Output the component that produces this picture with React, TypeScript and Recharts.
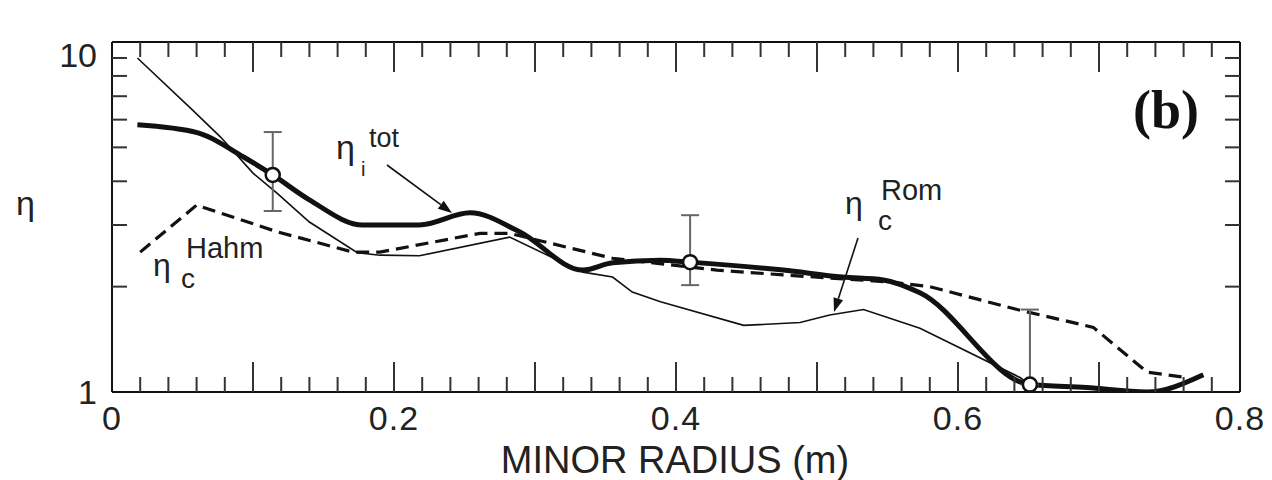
import React from 'react';
import { ComposedChart, Line, Scatter, ErrorBar, XAxis, YAxis } from 'recharts';

// eta_i^tot (thick solid)
const totX = [0.018, 0.061, 0.093, 0.114, 0.14, 0.178, 0.218, 0.254, 0.289, 0.334, 0.355, 0.389, 0.41, 0.476, 0.518, 0.547, 0.573, 0.651, 0.691, 0.734, 0.774];
const totY = [5.8, 5.5, 4.7, 4.17, 3.54, 3.0, 3.0, 3.25, 2.87, 2.23, 2.34, 2.38, 2.35, 2.23, 2.13, 2.09, 1.92, 1.05, 1.03, 1.0, 1.12];

// eta_c^Rom (thin solid)
const romX = [0.018, 0.057, 0.077, 0.1, 0.117, 0.14, 0.174, 0.19, 0.218, 0.282, 0.334, 0.355, 0.369, 0.389, 0.448, 0.488, 0.509, 0.533, 0.573, 0.644, 0.651];
const romY = [9.0, 6.4, 5.35, 4.22, 3.7, 3.06, 2.5, 2.46, 2.45, 2.77, 2.2, 2.13, 1.93, 1.81, 1.55, 1.58, 1.66, 1.72, 1.52, 1.1, 1.05];

// eta_c^Hahm (dashed)
const hahmX = [0.02, 0.06, 0.117, 0.171, 0.19, 0.261, 0.282, 0.355, 0.429, 0.476, 0.553, 0.58, 0.642, 0.696, 0.734, 0.762];
const hahmY = [2.51, 3.42, 2.87, 2.51, 2.51, 2.84, 2.84, 2.41, 2.23, 2.16, 2.06, 2.0, 1.72, 1.53, 1.14, 1.1];

// measured points with error bars [below, above]
const ptX = [0.114, 0.41, 0.651];
const ptY = [4.17, 2.35, 1.05];
const ptErr = [[0.88, 1.36], [0.33, 0.85], [0, 0.67]];

const xTicks = [0, 0.02, 0.04, 0.06, 0.08, 0.1, 0.12, 0.14, 0.16, 0.18, 0.2, 0.22, 0.24, 0.26, 0.28, 0.3, 0.32, 0.34, 0.36, 0.38, 0.4,
  0.42, 0.44, 0.46, 0.48, 0.5, 0.52, 0.54, 0.56, 0.58, 0.6, 0.62, 0.64, 0.66, 0.68, 0.7, 0.72, 0.74, 0.76, 0.78, 0.8];
const xLabelValues = [0, 0.2, 0.4, 0.6, 0.8];
const xLabels = ['0', '0.2', '0.4', '0.6', '0.8'];
const yTicks = [1, 2, 3, 4, 5, 6, 7, 8, 9, 10];
const yLabelValues = [1, 10];
const yLabels = ['1', '10'];

const totData = totX.map((x, i) => ({ x, y: totY[i] }));
const romData = romX.map((x, i) => ({ x, y: romY[i] }));
const hahmData = hahmX.map((x, i) => ({ x, y: hahmY[i] }));
const ptData = ptX.map((x, i) => ({ x, y: ptY[i], err: ptErr[i] }));

const INK = '#111';
const FONT = '"Liberation Sans", Arial, sans-serif';

const near = (a: number, b: number) => Math.abs(a - b) < 1e-6;
const isMajorX = (v: number) => near(v * 10, Math.round(v * 10));

const XTick = (side: 'bottom' | 'top') => (props: any) => {
  const x = Number(props.x);
  const y = Number(props.y);
  const v = Number(props.payload.value);
  const len = isMajorX(v) ? 30 : 15;
  const dir = side === 'bottom' ? -1 : 1;
  const li = xLabelValues.findIndex((t) => near(t, v));
  const inner = v > 0.001 && v < 0.799;
  return (
    <g>
      {inner ? <path d={`M${x},${y}L${x},${y + dir * len}`} stroke="#333" strokeWidth={2} fill="none" /> : null}
      {side === 'bottom' && li >= 0 ? (
        <text x={x} y={y + 38} textAnchor="middle" fontSize={34} fontFamily={FONT} fill="#222" letterSpacing={1}>
          {xLabels[li]}
        </text>
      ) : null}
    </g>
  );
};

const YTick = (side: 'left' | 'right') => (props: any) => {
  const { x, y, payload } = props;
  const v = payload.value;
  const dir = side === 'left' ? 1 : -1;
  const li = yLabelValues.indexOf(v);
  return (
    <g>
      {v > 1 && v < 10 && <line x1={x} y1={y} x2={x + dir * 15} y2={y} stroke="#333" strokeWidth={2} />}
      {side === 'left' && li >= 0 && (
        <text x={x - 15} y={y + (v === 10 ? 25 : 12)} textAnchor="end" fontSize={34} fontFamily={FONT} fill="#222">
          {yLabels[li]}
        </text>
      )}
    </g>
  );
};

const OpenCircle = (props: any) => {
  const { cx, cy } = props;
  return <circle cx={cx} cy={cy} r={7} fill="#fff" stroke={INK} strokeWidth={2.5} />;
};

const Arrow = ({ x1, y1, x2, y2 }: { x1: number; y1: number; x2: number; y2: number }) => {
  const a = Math.atan2(y2 - y1, x2 - x1);
  const L = 14;
  const W = 5;
  const bx = x2 - L * Math.cos(a);
  const by = y2 - L * Math.sin(a);
  const px = -Math.sin(a) * W;
  const py = Math.cos(a) * W;
  return (
    <g>
      <line x1={x1} y1={y1} x2={bx} y2={by} stroke={INK} strokeWidth={1.6} />
      <polygon points={`${x2},${y2} ${bx + px},${by + py} ${bx - px},${by - py}`} fill={INK} />
    </g>
  );
};

export default function App() {
  return (
    <div style={{ position: 'absolute', left: 0, top: 0, width: 1272, height: 480, background: '#fff' }}>
      <ComposedChart width={1272} height={480} margin={{ top: 41, right: 31, left: 0, bottom: 0 }}>
        <XAxis
          dataKey="x"
          type="number"
          domain={[0, 0.8]}
          allowDataOverflow
          ticks={xTicks}
          interval={0}
          height={88}
          tickSize={0}
          tickMargin={0}
          tickLine={false}
          axisLine={{ stroke: INK, strokeWidth: 2 }}
          tick={XTick('bottom')}
        />
        <XAxis
          xAxisId="top"
          orientation="top"
          dataKey="x"
          type="number"
          domain={[0, 0.8]}
          allowDataOverflow
          ticks={xTicks}
          interval={0}
          height={1}
          tickSize={0}
          tickMargin={0}
          tickLine={false}
          axisLine={{ stroke: INK, strokeWidth: 2 }}
          tick={XTick('top')}
        />
        <YAxis
          dataKey="y"
          scale="log"
          domain={[1, 10]}
          allowDataOverflow
          ticks={yTicks}
          interval={0}
          width={112}
          tickSize={0}
          tickMargin={0}
          tickLine={false}
          axisLine={{ stroke: INK, strokeWidth: 2 }}
          tick={YTick('left')}
        />
        <YAxis
          yAxisId="right"
          orientation="right"
          scale="log"
          domain={[1, 10]}
          allowDataOverflow
          ticks={yTicks}
          interval={0}
          width={1}
          tickSize={0}
          tickMargin={0}
          tickLine={false}
          axisLine={{ stroke: INK, strokeWidth: 2 }}
          tick={YTick('right')}
        />
        <Line data={romData} dataKey="y" type="linear" stroke={INK} strokeWidth={1.6} dot={false} isAnimationActive={false} />
        <Line data={hahmData} dataKey="y" type="linear" stroke={INK} strokeWidth={3.2} strokeDasharray="13 7" dot={false} isAnimationActive={false} />
        <Line data={totData} dataKey="y" type="monotone" stroke={INK} strokeWidth={5} dot={false} isAnimationActive={false} />
        <Scatter data={ptData} dataKey="y" shape={OpenCircle} isAnimationActive={false}>
          <ErrorBar dataKey="err" direction="y" width={9} stroke="#666" strokeWidth={2} isAnimationActive={false} />
        </Scatter>
      </ComposedChart>

      <svg width={1272} height={480} style={{ position: 'absolute', left: 0, top: 0, pointerEvents: 'none' }}>
        {/* y axis title */}
        <text x={16} y={215} fontSize={34} fontFamily={FONT} fill="#222">η</text>

        {/* eta_i^tot */}
        <text x={336} y={159} fontSize={34} fontFamily={FONT} fill="#222">η</text>
        <text x={361} y={176} fontSize={20} fontFamily={FONT} fill="#222">i</text>
        <text x={369} y={147} fontSize={27} fontFamily={FONT} fill="#222">tot</text>
        <Arrow x1={387} y1={165} x2={452} y2={213} />

        {/* eta_c^Rom */}
        <text x={845} y={214} fontSize={32} fontFamily={FONT} fill="#222">η</text>
        <text x={878} y={230} fontSize={28} fontFamily={FONT} fill="#222">c</text>
        <text x={881} y={200} fontSize={29} fontFamily={FONT} fill="#222">Rom</text>
        <Arrow x1={858} y1={238} x2={834} y2={312} />

        {/* eta_c^Hahm */}
        <text x={153} y={276} fontSize={32} fontFamily={FONT} fill="#222">η</text>
        <text x={181} y={288} fontSize={28} fontFamily={FONT} fill="#222">c</text>
        <text x={186} y={258} fontSize={29} fontFamily={FONT} fill="#222">Hahm</text>

        {/* panel tag */}
        <text x={1133} y={128} fontSize={54} fontWeight="bold" fontFamily={'"Liberation Serif", "Times New Roman", serif'} fill="#111">(b)</text>

        {/* axis title */}
        <text x={675} y={473} textAnchor="middle" fontSize={38} fontFamily={FONT} fill="#222">MINOR RADIUS (m)</text>
      </svg>
    </div>
  );
}
